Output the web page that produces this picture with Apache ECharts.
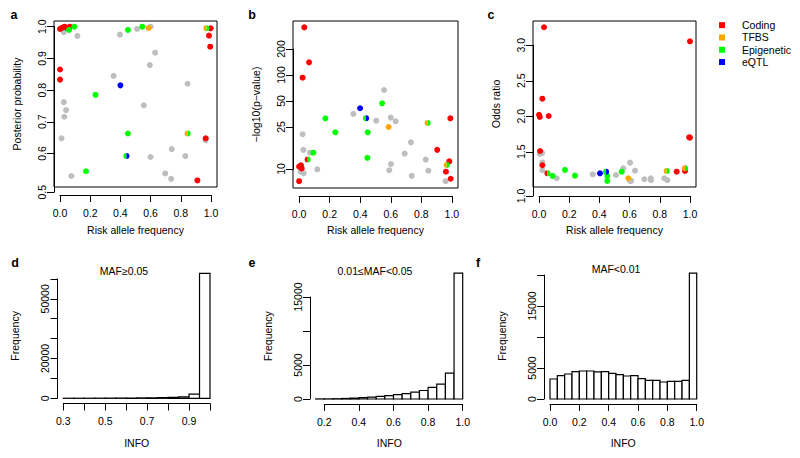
<!DOCTYPE html>
<html><head><meta charset="utf-8">
<script src="https://cdn.jsdelivr.net/npm/echarts@6/dist/echarts.min.js"></script>
<style>html,body{margin:0;padding:0;background:#fff}#c{width:800px;height:458px}</style>
</head><body><div id="c"></div>
<script>
// ================= DATA =================
// Annotation codes: '' none (grey), C Coding, T TFBS, E Epigenetic, Q eQTL; two letters = half/half point
// Panel a: risk allele frequency vs posterior probability
const aRAF  = [0.025,0.115,0.397,0.51,0.60,0.63,0.595,0.355,0.845,0.025,0.04,0.028,0.555,0.01,0.965,0.74,0.60,0.83,0.075,0.697,0.736,
               0.0,0.015,0.03,0.045,0.065,0.0,0.0,0.998,0.987,0.995,0.965,0.91,
               0.095,0.06,0.45,0.545,0.235,0.45,0.172, 0.587, 0.40, 0.97,0.845,0.44];
const aPost = [0.983,0.971,0.975,0.993,1.0,0.918,0.879,0.845,0.820,0.762,0.737,0.716,0.752,0.648,0.642,0.614,0.589,0.592,0.529,0.537,0.520,
               0.993,0.997,1.0,0.996,1.0,0.865,0.833,0.995,0.972,0.937,0.648,0.515,
               1.0,0.99,0.99,1.0,0.785,0.663,0.544, 0.996, 0.815, 0.995,0.663,0.592];
const aAnn  = ['','','','','','','','','','','','','','','','','','','','','',
               'C','C','C','C','C','C','C','C','C','C','C','C',
               'E','E','E','E','E','E','E','T','Q','TE','TE','EQ'];
// Panel b: risk allele frequency vs -log10(p-value)
const bRAF  = [0.556,0.355,0.505,0.60,0.632,0.023,0.732,0.028,0.071,0.691,0.829,0.601,0.01,0.03,0.119,0.59,0.846,0.737,0.959,
               0.034,0.065,0.023,0.99,0.904,0.983,0.0,0.017,0.961,0.992,0.0,0.012,
               0.543,0.172,0.237,0.449,0.093,0.447, 0.399, 0.586, 0.438, 0.841,0.966, 0.056];
const bLogP = [67,35.4,29.6,32.1,29.1,20.6,16.6,13.6,12.6,12.3,10.5,9.3,7.6,7.3,8.1,7.9,7.8,6.8,5.9,
               356,140,93,31.5,13.6,10.0,8.7,8.3,7.6,6.3,5.9,9.0,
               47,31.5,21.7,21.7,12.6,11.0, 41.2, 25.0, 31.5, 27.8,9.1, 10.5];
const bAnn  = ['','','','','','','','','','','','','','','','','','','',
               'C','C','C','C','C','C','C','C','C','C','C','C',
               'E','E','E','E','E','E','Q','T','EQ','TE','TE','CE'];
// Panel c: risk allele frequency vs odds ratio
const cRAF  = [0.005,0.02,0.022,0.022,0.117,0.356,0.51,0.558,0.603,0.603,0.61,0.636,0.698,0.74,0.742,0.83,0.85,
               0.033,1.0,0.022,0.0,0.005,0.064,0.995,1.0,0.007,0.022,0.912,0.967,
               0.09,0.172,0.238,0.452,0.452,0.548, 0.404, 0.592, 0.444, 0.846,0.967, 0.056];
const cOR   = [1.47,1.48,1.35,1.24,1.127,1.183,1.173,1.268,1.347,1.089,1.089,1.234,1.113,1.127,1.10,1.127,1.10,
               3.254,3.056,2.248,2.02,1.99,2.004,1.704,1.70,1.511,1.31,1.22,1.23,
               1.16,1.244,1.164,1.16,1.089,1.22, 1.197, 1.127, 1.22, 1.23,1.268, 1.197];
const cAnn  = ['','','','','','','','','','','','','','','','','',
               'C','C','C','C','C','C','C','C','C','C','C','C',
               'E','E','E','E','E','E','Q','T','EQ','TE','TE','CE'];
// Tick values / labels
const rafTicks = [0,0.2,0.4,0.6,0.8,1.0];
const rafTickLabels = ['0.0','0.2','0.4','0.6','0.8','1.0'];
const aYTicks = [0.5,0.6,0.7,0.8,0.9,1.0];
const aYTickLabels = ['0.5','0.6','0.7','0.8','0.9','1.0'];
const bYTicks = [10,25,50,100,200];
const bYTickLabels = ['10','25','50','100','200'];
const cYTicks = [1.0,1.5,2.0,2.5,3.0];
const cYTickLabels = ['1.0','1.5','2.0','2.5','3.0'];
// Histograms: bin edges and counts
const dEdges  = [0.30,0.35,0.40,0.45,0.50,0.55,0.60,0.65,0.70,0.75,0.80,0.85,0.90,0.95,1.00];
const dCounts = [20,30,40,60,90,120,160,210,270,350,460,700,2100,62800];
const eEdges  = [0.15,0.20,0.25,0.30,0.35,0.40,0.45,0.50,0.55,0.60,0.65,0.70,0.75,0.80,0.85,0.90,0.95,1.00];
const eCounts = [10,20,40,80,130,200,280,380,500,640,800,1000,1250,1700,2200,3800,18500];
const fEdges  = [0.00,0.05,0.10,0.15,0.20,0.25,0.30,0.35,0.40,0.45,0.50,0.55,0.60,0.65,0.70,0.75,0.80,0.85,0.90,0.95,1.00];
const fCounts = [3230,3770,4030,4410,4520,4520,4360,4410,4140,3930,3710,3770,3280,3010,3010,2740,2850,2850,3010,20300];
const dXTicks = [0.3,0.4,0.5,0.6,0.7,0.8,0.9,1.0];
const dXLabelVals = [0.3,0.5,0.7,0.9];
const eXTicks = [0.2,0.4,0.6,0.8,1.0];
const fXTicks = [0.0,0.2,0.4,0.6,0.8,1.0];
const dYTicks = [0,10000,20000,30000,40000,50000,60000];
const dYLabelVals = [0,20000,50000];
const eYTicks = [0,5000,10000,15000];
const eYLabelVals = [0,5000,15000];
const fYTicks = [0,5000,10000,15000,20000];
const fYLabelVals = [0,5000,15000];
const legendNames = {C:'Coding', T:'TFBS', E:'Epigenetic', Q:'eQTL'};

// ================= STYLE / LAYOUT =================
const FONT = '"Liberation Sans", Arial, Helvetica, sans-serif';
const FS = 10.5;
const COLORS = {'':'#BEBEBE', C:'#FF0000', T:'#FFA500', E:'#00FF00', Q:'#0000FF'};
const PS = 6; // point size
const LEFT_HALF = 'path://M1,0A1,1 0 0 0 1,2Z';
const RIGHT_HALF = 'path://M0,0A1,1 0 0 1 0,2Z';
const AXC = '#000';

const option = {animation:false, backgroundColor:'#fff', grid:[], xAxis:[], yAxis:[], series:[], graphic:[],
  legend:{data:['Coding','TFBS','Epigenetic','eQTL'], orient:'vertical', left:719, top:19, itemWidth:6, itemHeight:6,
    itemGap:0, icon:'rect', selectedMode:false, padding:0,
    textStyle:{fontFamily:FONT, fontSize:FS, color:'#000', lineHeight:12.3, padding:[0,0,0,12]}}};

function addGrid(r, show){
  option.grid.push({left:r.l, top:r.t, width:r.r-r.l, height:r.b-r.t, containLabel:false, outerBoundsMode:'none',
    show:!!show, borderColor:'#000', borderWidth:show?1:0, backgroundColor:'transparent'});
  return option.grid.length-1;
}
function dummy(g){ return {type:'value', gridIndex:g, show:false, min:0, max:1}; }
const hidden = {axisLine:{show:false}, axisTick:{show:false}, axisLabel:{show:false}, splitLine:{show:false}};
const lineStyle = {color:AXC, width:1};
const labelStyle = {fontFamily:FONT, fontSize:FS, color:'#000'};
function nearest(arr, v){ let bi=0,bd=Infinity; arr.forEach((a,i)=>{const d=Math.abs(a-v); if(d<bd){bd=d;bi=i;}}); return bi; }

function scatterPanel(p){
  const g = addGrid(p.box, true);
  option.xAxis.push(Object.assign({type:'value', gridIndex:g, min:p.xr[0], max:p.xr[1],
    name:'Risk allele frequency', nameLocation:'middle', nameGap:p.xNameGap, nameTextStyle:labelStyle}, hidden));
  option.yAxis.push(Object.assign({type:p.ylog?'log':'value', logBase:10, gridIndex:g, min:p.yr[0], max:p.yr[1],
    name:p.yName, nameLocation:'middle', nameGap:p.yNameGap, nameTextStyle:labelStyle}, hidden));
  const xi = option.xAxis.length-1, yi = option.yAxis.length-1;
  ['', 'C', 'T', 'E', 'Q'].forEach(cat=>{
    const data=[];
    p.x.forEach((x,i)=>{
      const ann=p.ann[i];
      if(cat===''){ if(ann==='') data.push([x,p.y[i]]); return; }
      const k=ann.indexOf(cat); if(k<0) return;
      if(ann.length===1) data.push([x,p.y[i]]);
      else data.push({value:[x,p.y[i]], symbol:k===0?LEFT_HALF:RIGHT_HALF, symbolSize:[PS/2,PS], symbolOffset:[k===0?-PS/4:PS/4,0]});
    });
    option.series.push({type:'scatter', name:cat===''?'Other':legendNames[cat], xAxisIndex:xi, yAxisIndex:yi, data,
      symbol:'circle', symbolSize:PS, itemStyle:{color:COLORS[cat], opacity:1, borderWidth:0}, silent:true, emphasis:{disabled:true}});
  });
  // x axis (offset below the box, spans first..last tick)
  const w=p.box.r-p.box.l;
  const xp=v=>p.box.l+(v-p.xr[0])/(p.xr[1]-p.xr[0])*w;
  const gx=addGrid({l:xp(rafTicks[0]), r:xp(rafTicks[rafTicks.length-1]), t:p.xAxisY-10, b:p.xAxisY});
  option.xAxis.push({type:'value', gridIndex:gx, min:0, max:1, interval:0.2,
    axisLine:{show:true, lineStyle}, axisTick:{show:true, inside:false, length:7, lineStyle},
    axisLabel:{show:true, margin:12, ...labelStyle, formatter:v=>rafTickLabels[nearest(rafTicks,v)]}, splitLine:{show:false}});
  option.yAxis.push(dummy(gx));
  // y axis (lowest tick drawn slightly lower, as in the reference)
  const h=p.box.b-p.box.t;
  const T=p.ylog?Math.log10:(v=>v), Ti=p.ylog?(u=>Math.pow(10,u)):(u=>u);
  const yp=v=>p.box.t+(T(p.yr[1])-T(v))/(T(p.yr[1])-T(p.yr[0]))*h;
  const yv=px=>Ti(T(p.yr[1])-(px-p.box.t)/h*(T(p.yr[1])-T(p.yr[0])));
  const t=p.yTicks, n=t.length;
  const lowPx=yp(t[0])+p.lowDrop, lowVal=yv(lowPx);
  const drawn=[lowVal].concat(t.slice(1));
  const gy=addGrid({l:p.box.l, r:p.box.l+10, t:yp(t[n-1]), b:lowPx});
  option.xAxis.push(dummy(gy));
  option.yAxis.push({type:p.ylog?'log':'value', logBase:10, gridIndex:gy, min:lowVal, max:t[n-1],
    axisLine:{show:true, lineStyle}, axisTick:{show:true, inside:false, length:7, lineStyle, customValues:drawn},
    axisLabel:{show:true, rotate:90, margin:p.yLabMargin, ...labelStyle, customValues:drawn, formatter:v=>p.yLabels[nearest(drawn,v)]},
    splitLine:{show:false}});
}

function histPanel(p){
  const g=addGrid(p.box,false);
  option.xAxis.push(Object.assign({type:'value', gridIndex:g, min:p.xr[0], max:p.xr[1], name:'INFO', nameLocation:'middle', nameGap:p.xNameGap, nameTextStyle:labelStyle}, hidden));
  option.yAxis.push(Object.assign({type:'value', gridIndex:g, min:p.yr[0], max:p.yr[1], name:'Frequency', nameLocation:'middle', nameGap:p.yNameGap, nameTextStyle:labelStyle}, hidden));
  const xi=option.xAxis.length-1, yi=option.yAxis.length-1;
  const data=p.counts.map((c,i)=>[p.edges[i],p.edges[i+1],c]);
  option.series.push({type:'custom', xAxisIndex:xi, yAxisIndex:yi, data, silent:true, encode:{x:[0,1], y:2},
    renderItem:(params,api)=>{
      const a=api.coord([api.value(0),api.value(2)]), b=api.coord([api.value(1),0]);
      return {type:'rect', shape:{x:a[0],y:a[1],width:b[0]-a[0],height:b[1]-a[1]}, style:{fill:'#fff',stroke:'#000',lineWidth:1.2}};
    }});
  const w=p.box.r-p.box.l, h=p.box.b-p.box.t;
  const xp=v=>p.box.l+(v-p.xr[0])/(p.xr[1]-p.xr[0])*w;
  const yp=v=>p.box.t+(p.yr[1]-v)/(p.yr[1]-p.yr[0])*h;
  const xt=p.xTicks, yt=p.yTicks;
  const gx=addGrid({l:xp(xt[0]), r:xp(xt[xt.length-1]), t:p.box.b-10, b:p.box.b});
  option.xAxis.push({type:'value', gridIndex:gx, min:xt[0], max:xt[xt.length-1],
    axisLine:{show:true, lineStyle}, axisTick:{show:true, inside:false, length:7, lineStyle, customValues:xt},
    axisLabel:{show:true, margin:12, ...labelStyle, customValues:p.xLabelVals, formatter:v=>v.toFixed(1)}, splitLine:{show:false}});
  option.yAxis.push(dummy(gx));
  const gy=addGrid({l:p.box.l, r:p.box.l+10, t:yp(yt[yt.length-1]), b:yp(0)});
  option.xAxis.push(dummy(gy));
  option.yAxis.push({type:'value', gridIndex:gy, min:0, max:yt[yt.length-1],
    axisLine:{show:true, lineStyle}, axisTick:{show:true, inside:false, length:7, lineStyle, customValues:yt},
    axisLabel:{show:true, rotate:90, margin:p.yLabMargin, ...labelStyle, customValues:p.yLabelVals, formatter:v=>String(v)}, splitLine:{show:false}});
}

scatterPanel({box:{l:54,t:21,r:217,b:187}, xr:[-0.04,1.04], yr:[0.4943,1.018], ylog:false, xAxisY:195, lowDrop:7,
  x:aRAF, y:aPost, ann:aAnn, yTicks:aYTicks, yLabels:aYTickLabels, yName:'Posterior probability', xNameGap:37.5, yNameGap:32, yLabMargin:7});
scatterPanel({box:{l:293,t:21,r:458,b:188}, xr:[-0.04,1.04], yr:[4.92,421.7], ylog:true, xAxisY:196, lowDrop:7.6,
  x:bRAF, y:bLogP, ann:bAnn, yTicks:bYTicks, yLabels:bYTickLabels, yName:'\u2212log10(p\u2212value)', xNameGap:36.5, yNameGap:32, yLabMargin:7});
scatterPanel({box:{l:533,t:21,r:696,b:187}, xr:[-0.04,1.04], yr:[1.004,3.342], ylog:false, xAxisY:196, lowDrop:8.7,
  x:cRAF, y:cOR, ann:cAnn, yTicks:cYTicks, yLabels:cYTickLabels, yName:'Odds ratio', xNameGap:37.5, yNameGap:32, yLabMargin:7});

histPanel({box:{l:57.5,t:268.3,r:216,b:403.5}, xr:[0.2723,1.0286], yr:[-2613,65327], edges:dEdges, counts:dCounts,
  xTicks:dXTicks, xLabelVals:dXLabelVals, yTicks:dYTicks, yLabelVals:dYLabelVals, xNameGap:33.5, yNameGap:37, yLabMargin:7});
histPanel({box:{l:310,t:268.3,r:468.6,b:404}, xr:[0.1173,1.0341], yr:[-735,19221], edges:eEdges, counts:eCounts,
  xTicks:eXTicks, xLabelVals:eXTicks, yTicks:eYTicks, yLabelVals:eYLabelVals, xNameGap:33.5, yNameGap:37, yLabMargin:7});
histPanel({box:{l:544,t:268,r:702.5,b:404}, xr:[-0.0409,1.0395], yr:[-806,21129], edges:fEdges, counts:fCounts,
  xTicks:fXTicks, xLabelVals:fXTicks, yTicks:fYTicks, yLabelVals:fYLabelVals, xNameGap:33.5, yNameGap:37, yLabMargin:7});

// Panel letters and histogram titles
const txt=(x,y,s,bold)=>({type:'text', x, y, style:{text:s, fontFamily:FONT, fontSize:bold?12.5:FS, fontWeight:bold?'bold':'normal', fill:'#000', align:'center', verticalAlign:'middle'}, silent:true});
option.graphic=[txt(14,15,'a',1),txt(252,15,'b',1),txt(491,15,'c',1),txt(15,263,'d',1),txt(252,263,'e',1),txt(478,263,'f',1),
  txt(124,271,'MAF\u22650.05'),txt(375,271,'0.01\u2264MAF<0.05'),txt(616,269,'MAF<0.01')];

const chart=echarts.init(document.getElementById('c'),null,{renderer:'svg',width:800,height:458});
chart.setOption(option);
</script></body></html>
